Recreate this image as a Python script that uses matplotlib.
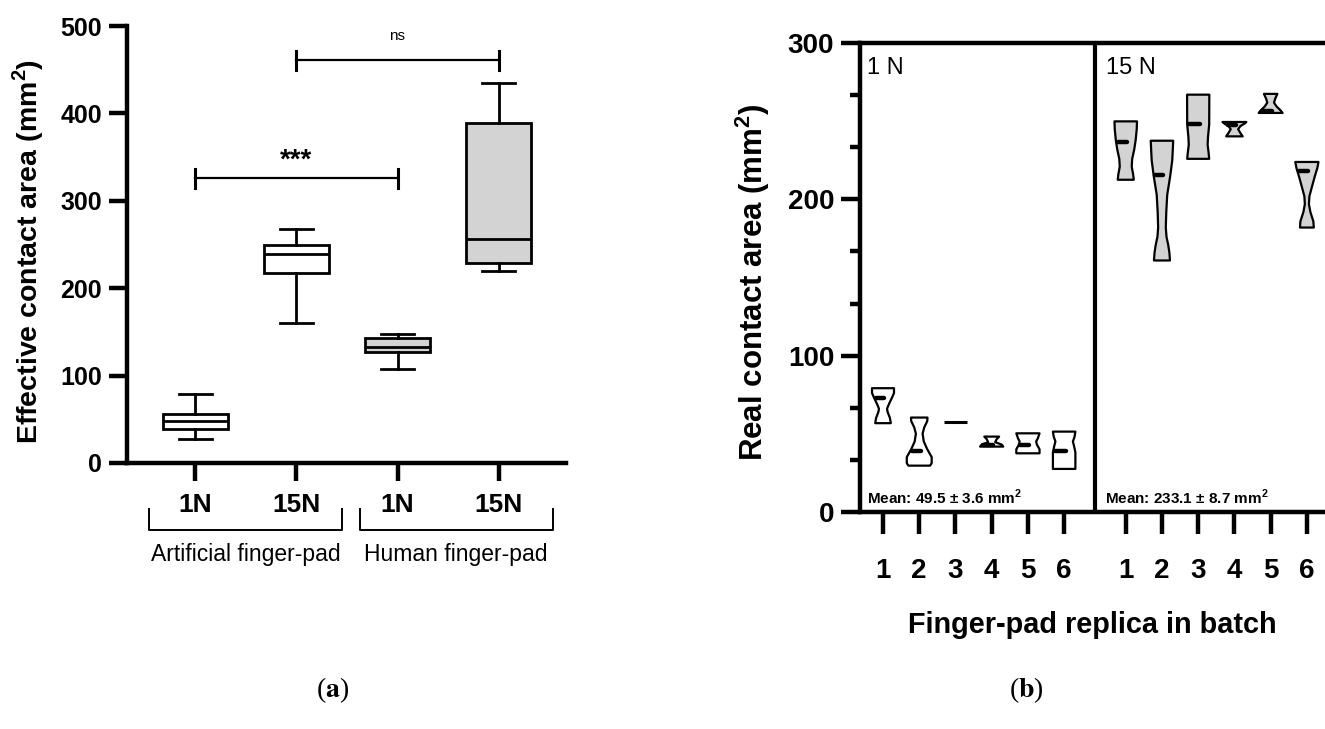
import matplotlib
matplotlib.use('Agg')
import matplotlib.pyplot as plt
import matplotlib.transforms as mtransforms
from matplotlib.ticker import MultipleLocator
import numpy as np

plt.rcParams['font.family'] = ['Liberation Sans', 'DejaVu Sans']
plt.rcParams['font.weight'] = 'bold'
plt.rcParams['mathtext.fontset'] = 'custom'
plt.rcParams['mathtext.rm'] = 'Liberation Sans'
plt.rcParams['mathtext.bf'] = 'Liberation Sans:bold'

# ---------------- Panel (a) data: box plots ----------------
box_labels = ['1N', '15N', '1N', '15N']
box_groups = ['Artificial finger-pad', 'Human finger-pad']
box_whislo = [27.1, 160.5, 107.2, 219.7]
box_q1 = [38.5, 217.7, 127.4, 229.2]
box_med = [48.4, 238.8, 133.1, 256.0]
box_q3 = [55.7, 249.4, 142.7, 389.4]
box_whishi = [78.6, 267.4, 147.2, 434.4]
box_fill = ['white', 'white', '#d3d3d3', '#d3d3d3']
sig_pairs = [(1, 3), (2, 4)]
sig_levels = [325.7, 460.7]
sig_text = ['***', 'ns']

# ---------------- Panel (b) data: violins ----------------
replicas = ['1', '2', '3', '4', '5', '6']
force_labels = ['1 N', '15 N']
mean_texts = ['Mean: 49.5 \u00b1 3.6 mm$^{\\mathbf{2}}$',
              'Mean: 233.1 \u00b1 8.7 mm$^{\\mathbf{2}}$']
# violin outlines: levels (mm^2) and relative half-widths
v1n_levels = [
    [56.7, 60, 64, 66, 69, 73, 76, 79.1],
    [29.5, 31, 35, 40, 45, 50, 54, 58, 60.3],
    [57.7],
    [41.7, 43, 44.5, 46.5, 48.1],
    [37.4, 40, 43, 45, 47, 50.2],
    [27.4, 38, 42, 45, 48, 51.3],
]
v1n_widths = [
    [0.65, 0.58, 0.38, 0.34, 0.5, 0.75, 0.92, 0.92],
    [0.9, 1.04, 1.04, 0.67, 0.38, 0.28, 0.42, 0.67, 0.69],
    [0.96],
    [0.97, 0.83, 0.29, 0.42, 0.62],
    [0.97, 0.97, 0.75, 0.69, 0.83, 0.97],
    [0.94, 0.94, 0.83, 0.73, 0.87, 0.94],
]
v1n_median = [72.7, 38.9, 57.7, 42.7, 42.8, 38.9]

v15n_levels = [
    [212.6, 216, 221, 226, 232, 238, 245, 250],
    [160.9, 166, 171, 176, 182, 192, 203, 215, 225, 231, 237.6],
    [226, 230, 235, 240, 248, 267.1],
    [240.4, 242.5, 245, 247, 248.5, 249.6],
    [255.4, 257, 259.5, 262, 264.5, 267.6],
    [182, 186, 192, 197, 202, 208, 215, 220, 224],
]
v15n_widths = [
    [0.67, 0.62, 0.5, 0.54, 0.71, 0.83, 0.92, 0.94],
    [0.67, 0.62, 0.52, 0.38, 0.32, 0.36, 0.44, 0.69, 0.86, 0.9, 0.94],
    [0.92, 0.87, 0.79, 0.82, 0.92, 0.93],
    [0.69, 0.5, 0.31, 0.5, 0.83, 1.0],
    [1.0, 0.83, 0.5, 0.28, 0.38, 0.56],
    [0.58, 0.54, 0.29, 0.17, 0.21, 0.42, 0.67, 0.87, 0.97],
]
v15n_median = [236.8, 215.6, 248.5, 247.9, 256.9, 218.0]

GRAY = '#d3d3d3'

fig = plt.figure(figsize=(13.25, 7.29), dpi=100)
W, H = 1325.0, 729.0

# ================= Panel (a) =================
axA = fig.add_axes([127 / W, 1 - 463 / H, (566 - 127) / W, (463 - 26) / H])
pos = np.arange(1, len(box_labels) + 1)
stats = [dict(whislo=a, q1=b, med=c, q3=d, whishi=e, fliers=[])
         for a, b, c, d, e in zip(box_whislo, box_q1, box_med, box_q3, box_whishi)]
bp = axA.bxp(stats, positions=pos, widths=0.65, patch_artist=True,
             showfliers=False,
             boxprops=dict(linewidth=2.0, edgecolor='black'),
             medianprops=dict(color='black', linewidth=2.0),
             whiskerprops=dict(color='black', linewidth=2.0),
             capprops=dict(color='black', linewidth=2.0),
             capwidths=0.32)
for patch, fc in zip(bp['boxes'], box_fill):
    patch.set_facecolor(fc)

axA.set_xlim(0.323, 4.667)
axA.set_ylim(0, 500)
axA.set_yticks([0, 100, 200, 300, 400, 500])
axA.set_xticks(pos)
axA.set_xticklabels(box_labels)
for s in ['top', 'right']:
    axA.spines[s].set_visible(False)
for s in ['left', 'bottom']:
    axA.spines[s].set_linewidth(3.2)
axA.tick_params(axis='y', length=13, width=3.2, labelsize=18, pad=5)
axA.tick_params(axis='x', length=13, width=3.2, labelsize=19, pad=8.5)
axA.set_ylabel('Effective contact area (mm$^{\\mathbf{2}}$)', fontsize=20.5,
               fontweight='bold')
axA.yaxis.set_label_coords(-0.1845, 0.483)

# significance brackets
for (i, j), lvl, txt in zip(sig_pairs, sig_levels, sig_text):
    axA.plot([i, j], [lvl, lvl], color='black', lw=1.6)
    for xx in (i, j):
        axA.plot([xx, xx], [lvl - 10.5, lvl + 10.5], color='black', lw=2.2)
    if txt == 'ns':
        axA.text((i + j) / 2, lvl + 28, txt, ha='center', va='center',
                 fontsize=11, fontweight='normal')
    else:
        axA.text((i + j) / 2, lvl + 20, txt, ha='center', va='center',
                 fontsize=20, fontweight='bold')

# group brackets below the axis
tA = mtransforms.blended_transform_factory(axA.transData, axA.transAxes)
bracket_shift = [0.0, 0.08]
for g, name in enumerate(box_groups):
    cx = (pos[2 * g] + pos[2 * g + 1]) / 2 + bracket_shift[g]
    x0, x1 = cx - 0.955, cx + 0.955
    axA.plot([x0, x0, x1, x1], [-0.105, -0.153, -0.153, -0.105], color='black',
             lw=1.4, transform=tA, clip_on=False)
    axA.text(cx, -0.21, name, transform=tA, ha='center', va='center',
             fontsize=16.5, fontweight='normal', clip_on=False)

# ================= Panel (b) =================
axB = fig.add_axes([860 / W, 1 - 511.7 / H, 1 - 860 / W, (511.7 - 43.3) / H])
xpos_1n = np.arange(1, 7)
xpos_15n = xpos_1n + 6.7
divider_x = 6.85
HALF_W = 0.33


def draw_violin(ax, x, levels, widths, median, fill):
    lv = np.asarray(levels, dtype=float)
    hw = np.asarray(widths, dtype=float) * HALF_W
    if len(lv) == 1:
        ax.plot([x - hw[0], x + hw[0]], [lv[0], lv[0]], color='black', lw=2.2,
                solid_capstyle='butt', zorder=3)
        return
    xs = np.concatenate([x - hw, (x + hw)[::-1]])
    ys = np.concatenate([lv, lv[::-1]])
    ax.fill(xs, ys, facecolor=fill, edgecolor='black', lw=1.6,
            joinstyle='round', zorder=2)
    hm = np.interp(median, lv, hw)
    ax.plot([x - hm + 0.04, x + 0.04], [median, median], color='black', lw=3.2,
            solid_capstyle='round', zorder=3)


for x, lv, wd, md in zip(xpos_1n, v1n_levels, v1n_widths, v1n_median):
    draw_violin(axB, x, lv, wd, md, 'white')
for x, lv, wd, md in zip(xpos_15n, v15n_levels, v15n_widths, v15n_median):
    draw_violin(axB, x, lv, wd, md, GRAY)

axB.axvline(divider_x, color='black', lw=3)
axB.set_xlim(0.365, 13.2)
axB.set_ylim(0, 300)
axB.set_yticks([0, 100, 200, 300])
axB.yaxis.set_minor_locator(MultipleLocator(100 / 3))
axB.set_xticks(np.concatenate([xpos_1n, xpos_15n]))
axB.set_xticklabels(replicas + replicas)
axB.spines['right'].set_visible(False)
for s in ['left', 'bottom', 'top']:
    axB.spines[s].set_linewidth(3.2)
axB.tick_params(axis='y', which='major', length=13.5, width=3.2, labelsize=20, pad=5)
axB.tick_params(axis='y', which='minor', length=7, width=3.2)
axB.tick_params(axis='x', length=16, width=3.2, labelsize=20, pad=17)
axB.set_ylabel('Real contact area (mm$^{\\mathbf{2}}$)', fontsize=22.5,
               fontweight='bold')
axB.yaxis.set_label_coords(-0.189, 0.491)
axB.set_xlabel('Finger-pad replica in batch', fontsize=20.8, fontweight='bold',
               labelpad=20)

tB = mtransforms.blended_transform_factory(axB.transData, axB.transAxes)
axB.text(0.55, 0.947, force_labels[0], transform=tB, ha='left', va='center',
         fontsize=17, fontweight='normal')
axB.text(7.16, 0.947, force_labels[1], transform=tB, ha='left', va='center',
         fontsize=17, fontweight='normal')
axB.text(0.55, 9, mean_texts[0], ha='left', va='center', fontsize=11,
         fontweight='bold')
axB.text(7.13, 9, mean_texts[1], ha='left', va='center', fontsize=11,
         fontweight='bold')

# panel letters
fig.text(333 / W, 1 - 690 / H, '($\\mathbf{a}$)', ha='center', va='center',
         fontsize=20, fontweight='normal', family='Liberation Serif',
         math_fontfamily='stix')
fig.text(1026 / W, 1 - 690 / H, '($\\mathbf{b}$)', ha='center', va='center',
         fontsize=20, fontweight='normal', family='Liberation Serif',
         math_fontfamily='stix')

fig.savefig('out.png', dpi=100)
